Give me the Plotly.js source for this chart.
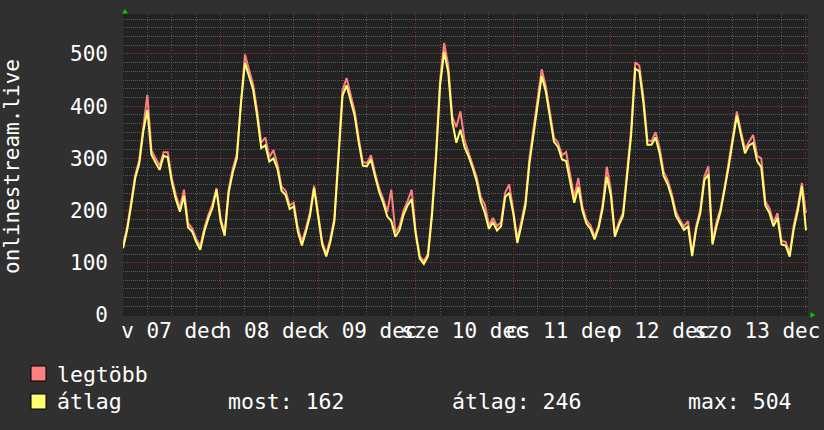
<!DOCTYPE html>
<html>
<head>
<meta charset="utf-8">
<script src="https://cdn.plot.ly/plotly-3.0.1.min.js"></script>
<style>
html,body{margin:0;padding:0;background:#303030;}
#chart{width:824px;height:430px;}
</style>
</head>
<body>
<div id="chart"></div>
<script>
// ---- data (hourly, Dec 7 00:00 .. Dec 14 00:00) ----
const dayLabels = ["v 07 dec","h 08 dec","k 09 dec","sze 10 dec","cs 11 dec","p 12 dec","szo 13 dec"];

const avgValues = [
  128,162,210,262,290,352,393,307,292,278,305,302,255,222,198,228,168,160,140,125,160,185,205,240,
  180,152,235,273,300,405,483,458,432,381,320,325,294,300,280,238,230,203,208,160,133,160,190,243,
  189,135,112,140,180,305,420,440,410,381,330,286,285,298,266,236,215,189,180,150,162,192,210,222,
  155,108,98,112,190,300,440,504,465,370,330,355,322,304,282,256,218,196,165,178,162,170,226,234,
  195,138,172,210,292,345,400,458,428,380,332,322,298,295,255,215,245,200,175,165,145,167,205,265,
  230,150,172,190,266,345,472,467,408,326,326,340,310,266,250,225,190,175,163,170,113,165,195,258,
  270,135,170,198,238,285,334,382,345,310,325,330,295,283,210,196,170,186,135,133,112,165,200,247,
  162
];

const maxValues = [
  133,168,216,268,297,360,422,315,300,286,312,312,262,230,205,240,176,166,146,132,166,192,212,243,
  186,158,241,280,308,413,499,470,442,392,330,340,302,316,288,246,238,210,215,168,140,166,197,248,
  195,140,117,146,186,312,430,454,420,390,338,293,291,306,272,243,222,197,240,158,170,200,218,240,
  160,113,103,117,198,310,450,521,478,380,360,390,335,312,290,264,226,212,172,186,170,178,234,250,
  200,145,180,218,302,355,410,471,438,390,340,330,306,312,265,225,262,208,182,172,150,172,212,284,
  240,155,178,196,275,355,484,478,418,335,333,350,320,274,258,232,198,182,170,180,118,170,202,265,
  285,140,178,205,245,292,340,390,352,318,332,345,305,300,218,204,178,195,142,140,118,172,208,253,
  195
];

const seriesNames = ["legtöbb","átlag"];
const seriesColors = ["#FF7F7F","#FFFF72"];
const statLabels = ["most","átlag","max"];
const statValues = [162,246,504];
const yAxisTitle = "onlinestream.live";

// ---- derived ----
const hours = avgValues.map((_, i) => i);
const dayStarts = [], dayNoons = [], xMinor = [];
for (let d = 0; d <= 7; d++) dayStarts.push(d * 24);
for (let d = 0; d < 7; d++) dayNoons.push(d * 24 + 12);
for (let h = 0; h <= 168; h += 6) if (h % 24 !== 0) xMinor.push(h);
const yMinor = [];
for (let k = 0; k <= 34; k++) if (k % 6 !== 0) yMinor.push(k * 100 / 6);

const FONT = "DejaVu Sans Mono";
const W = 824, H = 430;
const ML = 123, MR = 16, MT = 14, MB = 114;
const PW = W - ML - MR, PH = H - MT - MB;
const px = x => (x - ML) / PW;        // pixel -> paper x
const py = y => (H - MB - y) / PH;    // pixel -> paper y

const traces = [
  {x: hours, y: maxValues, type: 'scatter', mode: 'lines', name: seriesNames[0],
   line: {color: seriesColors[0], width: 2}, xaxis: 'x', yaxis: 'y', showlegend: false, hoverinfo: 'skip'},
  {x: hours, y: avgValues, type: 'scatter', mode: 'lines', name: seriesNames[1],
   line: {color: seriesColors[1], width: 2}, xaxis: 'x2', yaxis: 'y', showlegend: false, hoverinfo: 'skip'}
];

const gridGray = '#5a5a5a';
const gridRed = '#8a3232';
const xRange = [0, 168.5];
const legFont = {family: FONT, size: 21.5, color: '#ffffff'};
const axFont = {family: FONT, size: 21, color: '#ffffff'};

const annotations = [
  {text: yAxisTitle, xref: 'paper', yref: 'paper', x: px(12), y: py(166), textangle: -90,
   showarrow: false, xanchor: 'center', yanchor: 'middle', font: axFont},
  {text: seriesNames[0], xref: 'paper', yref: 'paper', x: px(55), y: py(374), showarrow: false,
   xanchor: 'left', yanchor: 'middle', font: legFont},
  {text: seriesNames[1], xref: 'paper', yref: 'paper', x: px(55), y: py(402), showarrow: false,
   xanchor: 'left', yanchor: 'middle', font: legFont},
  {text: statLabels[0] + ': ' + statValues[0], xref: 'paper', yref: 'paper', x: px(226), y: py(402), showarrow: false,
   xanchor: 'left', yanchor: 'middle', font: legFont},
  {text: statLabels[1] + ': ' + statValues[1], xref: 'paper', yref: 'paper', x: px(450), y: py(402), showarrow: false,
   xanchor: 'left', yanchor: 'middle', font: legFont},
  {text: statLabels[2] + ': ' + statValues[2], xref: 'paper', yref: 'paper', x: px(686), y: py(402), showarrow: false,
   xanchor: 'left', yanchor: 'middle', font: legFont}
];

const shapes = [
  {type: 'rect', xref: 'paper', yref: 'paper', x0: px(31), x1: px(46), y0: py(366), y1: py(381),
   fillcolor: seriesColors[0], line: {color: '#000000', width: 1}},
  {type: 'rect', xref: 'paper', yref: 'paper', x0: px(31), x1: px(46), y0: py(394), y1: py(409),
   fillcolor: seriesColors[1], line: {color: '#000000', width: 1}},
  // axis arrow heads
  {type: 'path', xref: 'paper', yref: 'paper',
   path: `M ${px(122)},${py(13.5)} L ${px(128)},${py(13.5)} L ${px(125)},${py(9)} Z`,
   fillcolor: '#00cc00', line: {color: '#00cc00', width: 0}},
  {type: 'path', xref: 'paper', yref: 'paper',
   path: `M ${px(810.5)},${py(312)} L ${px(810.5)},${py(318)} L ${px(815)},${py(315)} Z`,
   fillcolor: '#00cc00', line: {color: '#00cc00', width: 0}}
];

const layout = {
  width: W, height: H,
  margin: {l: ML, r: MR, t: MT, b: MB, pad: 0},
  paper_bgcolor: '#303030',
  plot_bgcolor: '#222222',
  showlegend: false,
  font: {family: FONT, size: 20, color: '#ffffff'},
  xaxis: {
    range: xRange, tickmode: 'array', tickvals: dayStarts, showticklabels: false, ticks: '',
    showgrid: true, gridcolor: gridRed, griddash: '1px,2px', gridwidth: 1,
    zeroline: false, showline: false, fixedrange: true,
    minor: {tickmode: 'array', tickvals: xMinor, showgrid: true, gridcolor: gridGray, griddash: '1px,2px', gridwidth: 1}
  },
  xaxis2: {
    overlaying: 'x', anchor: 'y', side: 'bottom', range: xRange,
    tickmode: 'array', tickvals: dayNoons, ticktext: dayLabels, tickangle: 0,
    showgrid: false, zeroline: false, showline: false, ticks: '', ticklabelstandoff: 0,
    tickfont: axFont, fixedrange: true
  },
  yaxis: {
    range: [-1.9, 576.6], tickmode: 'linear', tick0: 0, dtick: 100,
    showgrid: true, gridcolor: gridRed, griddash: '1px,1px', gridwidth: 1,
    zeroline: false, showline: false, ticks: '', ticklabelstandoff: 14,
    tickfont: axFont, fixedrange: true,
    minor: {tickmode: 'array', tickvals: yMinor, showgrid: true, gridcolor: gridGray, griddash: '1px,1px', gridwidth: 1}
  },
  annotations: annotations,
  shapes: shapes
};

Plotly.newPlot('chart', traces, layout, {staticPlot: true, displayModeBar: false});
</script>
</body>
</html>
